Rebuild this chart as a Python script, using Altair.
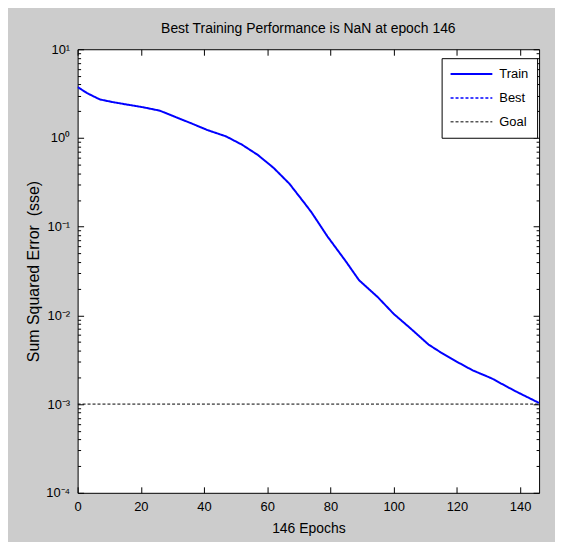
import altair as alt
import pandas as pd

# ---- data ----
epochs = [0, 3, 7, 11, 15, 21, 26, 31, 36, 41, 47, 52, 57, 62, 67, 72, 74, 79,
          85, 89, 95, 100, 105, 111, 115, 120, 125, 131, 136, 139, 146]
train_sse = [3.75, 3.2, 2.72, 2.54, 2.40, 2.21, 2.03, 1.72, 1.46, 1.23, 1.04, 0.84,
             0.644, 0.46, 0.305, 0.18, 0.145, 0.078, 0.040, 0.025, 0.016, 0.0104,
             0.0073, 0.0047, 0.0038, 0.0030, 0.0024, 0.00195, 0.00156, 0.00137, 0.00103]
goal_epochs = [0, 146]
goal_sse = [0.001, 0.001]

series_names = ["Train", "Best", "Goal"]
series_colors = ["#0000ff", "#0000ff", "#000000"]
series_dash = [[1, 0], [3, 2], [3, 2]]
series_width = [2, 1, 1]

x_ticks = [0, 20, 40, 60, 80, 100, 120, 140]
y_ticks = [m * 10.0 ** e for e in range(-4, 1) for m in range(1, 10)] + [10.0]

title_text = "Best Training Performance is NaN at epoch 146"
x_title = "146 Epochs"
y_title = "Sum Squared Error\u00a0 (sse)"

FONT = "Liberation Sans"

train_df = pd.DataFrame({"epoch": epochs, "sse": train_sse, "series": "Train"})
goal_df = pd.DataFrame({"epoch": goal_epochs, "sse": goal_sse, "series": "Goal"})

x_scale = alt.Scale(domain=[0, 146], nice=False, zero=False)
y_scale = alt.Scale(type="log", domain=[1e-4, 10], nice=False)

is_major = "abs(log(datum.value)/LN10 - round(log(datum.value)/LN10)) < 0.001"
y_tick_size = {"expr": is_major + " ? -6 : -3"}
e_ = "round(log(datum.value)/LN10)"
y_label_expr = (
    "!(" + is_major + ") ? '' : "
    + e_ + " == 1 ? '10¹' : "
    + e_ + " == 0 ? '10⁰' : "
    + e_ + " == -1 ? '10⁻¹' : "
    + e_ + " == -2 ? '10⁻²' : "
    + e_ + " == -3 ? '10⁻³' : "
    + e_ + " == -4 ? '10⁻⁴' : ''"
)

legend = alt.Legend(
    title=None, orient="none", legendX=366, legendY=9,
    strokeColor="black", fillColor="white", padding=8, cornerRadius=0,
    symbolType="stroke", symbolSize=1764, labelOffset=6, rowPadding=8,
    clipHeight=16,
    labelFont=FONT, labelFontSize=13, labelColor="black",
)

color_enc = alt.Color("series:N", scale=alt.Scale(domain=series_names, range=series_colors), legend=legend)
dash_enc = alt.StrokeDash("series:N", scale=alt.Scale(domain=series_names, range=series_dash), legend=legend)
width_enc = alt.StrokeWidth("series:O", scale=alt.Scale(domain=series_names, range=series_width), legend=legend)

x_bottom = alt.Axis(
    values=x_ticks, orient="bottom", title=x_title, tickSize={"expr": "-6"},
    labelPadding=14, titlePadding=8, domain=False, grid=False, labelFlush=False,
    labelFont=FONT, labelFontSize=13, titleFont=FONT, titleFontSize=14,
    titleFontWeight="normal", labelColor="black", titleColor="black", tickColor="black",
)
x_top = alt.Axis(
    values=x_ticks, orient="top", title=None, labels=False, tickSize={"expr": "-6"},
    domain=False, grid=False, tickColor="black",
)
y_left = alt.Axis(
    values=y_ticks, orient="left", title=y_title, tickSize=y_tick_size,
    labelExpr=y_label_expr, labelOverlap=False, labelPadding=14, titlePadding=4,
    domain=False, grid=False, labelFlush=False, labelBound=False,
    labelFont=FONT, labelFontSize=13, titleFont=FONT, titleFontSize=16,
    titleFontWeight="normal", labelColor="black", titleColor="black", tickColor="black",
)
y_right = alt.Axis(
    values=y_ticks, orient="right", title=None, labels=False, tickSize=y_tick_size,
    domain=False, grid=False, tickColor="black",
)

train_layer = alt.Chart(train_df).mark_line(clip=True).encode(
    x=alt.X("epoch:Q", scale=x_scale, axis=x_bottom),
    y=alt.Y("sse:Q", scale=y_scale, axis=y_left),
    color=color_enc, strokeDash=dash_enc, strokeWidth=width_enc,
)

goal_layer = alt.Chart(goal_df).mark_line(clip=True).encode(
    x=alt.X("epoch:Q", scale=x_scale, axis=x_top),
    y=alt.Y("sse:Q", scale=y_scale, axis=y_right),
    color=color_enc, strokeDash=dash_enc, strokeWidth=width_enc,
)

chart = alt.layer(goal_layer, train_layer).properties(
    width=464, height=446,
    title=alt.TitleParams(text=title_text, font=FONT, fontSize=14, fontWeight="normal",
                          color="black", anchor="middle", offset=7),
    autosize=alt.AutoSizeParams(type="none"),
    padding={"left": 70, "top": 40, "right": 16, "bottom": 48},
    background="#cccccc",
).configure_view(
    stroke="black", strokeWidth=1, fill="white"
)

chart.save("out.html", embed_options={"renderer": "svg", "actions": False})
